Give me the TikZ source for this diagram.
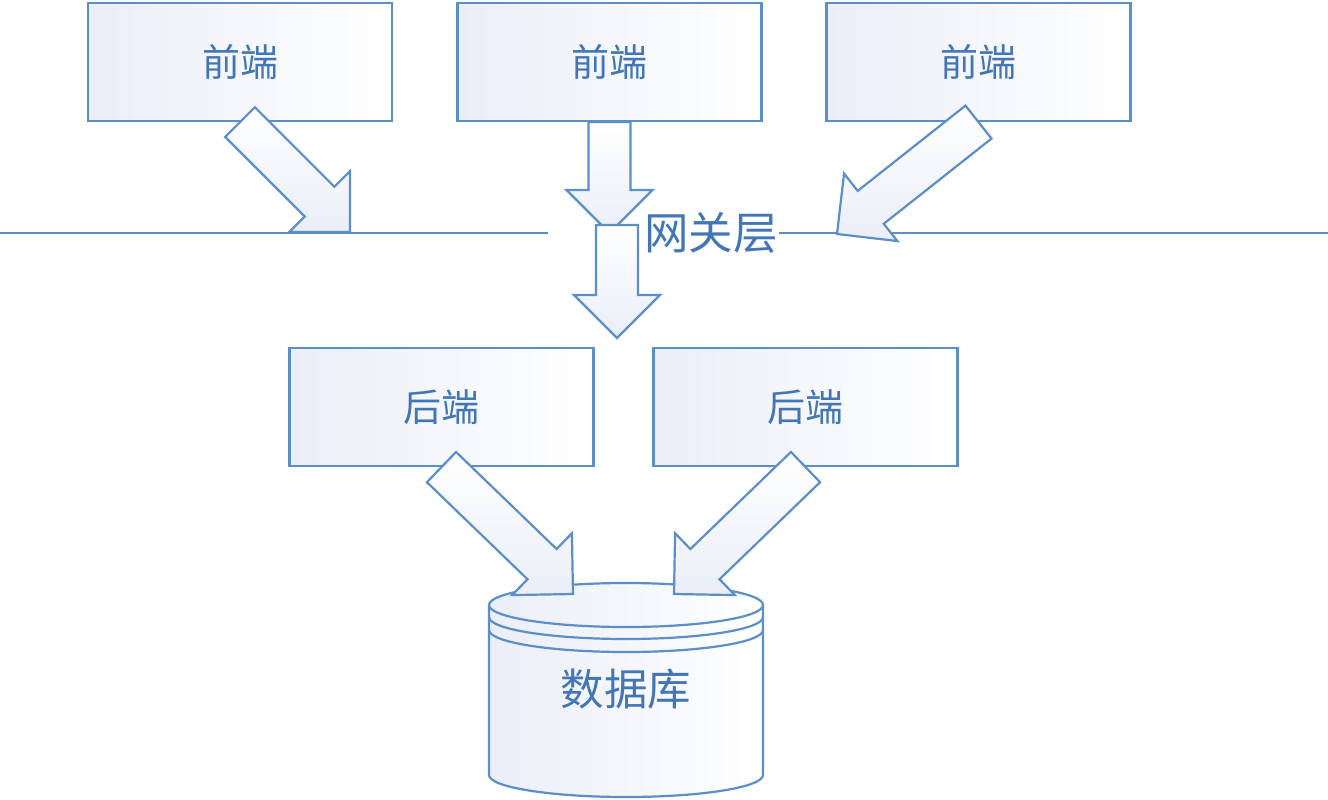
\documentclass[tikz,border=0pt]{standalone}
\usepackage{fontspec}
\newfontfamily\cjk{Noto Sans CJK SC}
\usetikzlibrary{calc}
\definecolor{edge}{RGB}{92,142,200}
\definecolor{txt}{RGB}{66,118,180}
\definecolor{tint}{RGB}{234,238,247}
\newcommand\blockarrow[2]{%
  \coordinate (bahead) at ($(#2)!43pt!(#1)$);
  \draw[barrow] ($(#1)!21pt!90:(#2)$) -- ($(bahead)!21pt!90:(#2)$) -- ($(bahead)!43pt!90:(#2)$) -- (#2) -- ($(bahead)!43pt!-90:(#2)$) -- ($(bahead)!21pt!-90:(#2)$) -- ($(#1)!21pt!-90:(#2)$) -- cycle;}
\begin{document}
\begin{tikzpicture}[x=1pt,y=-1pt,
  edgeline/.style={draw=edge,line width=2.2pt},
  box/.style={edgeline,left color=tint,right color=white,minimum width=304pt,minimum height=118pt,inner sep=0pt,text=txt,font=\cjk\fontsize{38}{42}\selectfont},
  barrow/.style={edgeline,line join=miter,top color=white,bottom color=tint},
  lbl/.style={text=txt,inner sep=1pt}]
\useasboundingbox (0,0) rectangle (1328,800);
% database cylinder
\shade[left color=tint,right color=white] (489,605) -- (489,775) arc[start angle=180,end angle=360,x radius=137pt,y radius=22pt] -- (763,605) arc[start angle=0,end angle=180,x radius=137pt,y radius=22pt] -- cycle;
\draw[edgeline] (489,605) -- (489,775) arc[start angle=180,end angle=360,x radius=137pt,y radius=22pt] -- (763,605);
\draw[edgeline] (626,605) ellipse[x radius=137pt,y radius=22pt];
\draw[edgeline] (489,617) arc[start angle=180,end angle=360,x radius=137pt,y radius=22pt];
\draw[edgeline] (489,630) arc[start angle=180,end angle=360,x radius=137pt,y radius=22pt];
\node[lbl,font=\cjk\fontsize{43.5}{47}\selectfont] (db) at (626,689) {数据库};
% boxes
\node[box] (f1) at (240,62) {前端};
\node[box] (f2) at (609.5,62) {前端};
\node[box] (f3) at (978.5,62) {前端};
\node[box] (b1) at (441.5,407) {后端};
\node[box] (b2) at (805.5,407) {后端};
% gateway line
\node[lbl,font=\cjk\fontsize{44.5}{48}\selectfont] (gw) at (711,233) {网关层};
\coordinate (gl0) at (0,233);
\coordinate (gl1) at (548,233);
\coordinate (gr1) at (1328,233);
\draw[edgeline] (gl0) -- (gl1);
\draw[edgeline] (gw.east) -- (gr1);
% arrow endpoints
\coordinate (s1) at (f1.south);
\coordinate (s2) at (f2.south);
\coordinate (s3) at (f3.south);
\coordinate (s5) at (b1.south);
\coordinate (s6) at (b2.south);
\coordinate (t1) at (350,232);
\coordinate (t3) at (837,234);
\coordinate (t2) at (609.5,233);
\coordinate (s4) at (617,225);
\coordinate (t4) at (617,338);
\coordinate (dbl) at (573,594);
\coordinate (dbr) at (674,594);
% arrows
\blockarrow{s1}{t1}
\blockarrow{s3}{t3}
\blockarrow{s2}{t2}
\blockarrow{s4}{t4}
\blockarrow{s5}{dbl}
\blockarrow{s6}{dbr}
\end{tikzpicture}
\end{document}
